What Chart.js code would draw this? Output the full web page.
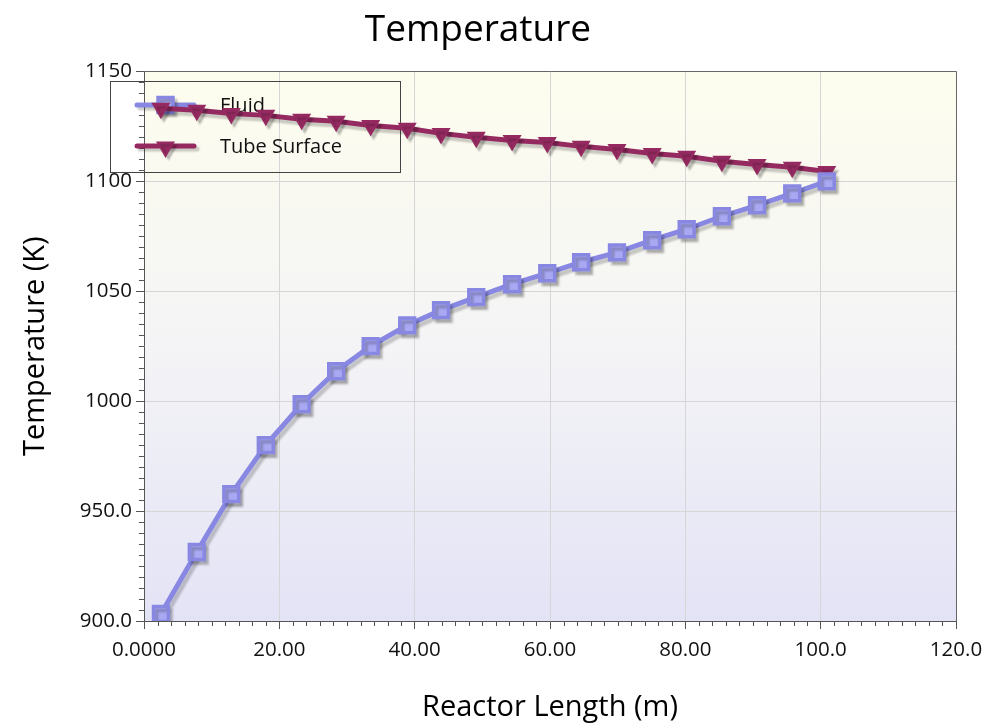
<!DOCTYPE html>
<html>
<head>
<meta charset="utf-8">
<title>Temperature</title>
<script src="https://cdn.jsdelivr.net/npm/chart.js@4.4.1/dist/chart.umd.min.js"></script>
<style>
  html, body { margin: 0; padding: 0; background: #fff; }
  #wrap { width: 987px; height: 726px; position: relative; }
</style>
</head>
<body>
<div id="wrap"><canvas id="chart"></canvas></div>
<script>
// Reactor length (m) for each profile point
const reactorLength = [2.5, 7.8, 12.9, 18.0, 23.3, 28.4, 33.5, 38.9, 43.9, 49.1,
  54.4, 59.6, 64.6, 69.9, 75.1, 80.2, 85.4, 90.6, 95.8, 100.9];

// Temperatures (K)
const fluidTemp = [903.2, 931.4, 957.7, 980.0, 998.6, 1013.6, 1025.0, 1034.5, 1041.4, 1047.3,
  1053.2, 1058.2, 1063.2, 1067.7, 1073.2, 1078.2, 1084.1, 1089.1, 1094.5, 1100.0];
const tubeSurfaceTemp = [1133.2, 1132.3, 1130.9, 1130.0, 1128.2, 1127.3, 1125.4, 1124.1, 1121.8, 1120.0,
  1118.6, 1117.7, 1115.9, 1114.5, 1112.7, 1111.4, 1109.1, 1107.7, 1106.4, 1104.5];

const seriesNames = ["Fluid", "Tube Surface"];

// Axis tick labels (the source formats them inconsistently)
const xTickValues = [0, 20, 40, 60, 80, 100, 120];
const xTickLabels = ["0.0000", "20.00", "40.00", "60.00", "80.00", "100.0", "120.0"];
const yTickValues = [900, 950, 1000, 1050, 1100, 1150];
const yTickLabels = ["900.0", "950.0", "1000", "1050", "1100", "1150"];

const FLUID = "#8888e2";
const FLUID_FILL = "#a8a8f3";
const TUBE = "#952a61";
const AXIS = "#555555";
const GRID = "#d6d6d6";

Chart.defaults.font.family = "'Open Sans', 'Noto Sans', sans-serif";
Chart.defaults.color = "#111";

function majorLabel(values, labels, v) {
  const i = values.indexOf(Math.round(v));
  return i >= 0 && Math.abs(v - Math.round(v)) < 1e-6 ? labels[i] : "";
}

// gradient fill behind the plot
const plotBackground = {
  id: "plotBackground",
  beforeDraw(chart) {
    const { ctx, chartArea: a } = chart;
    const g = ctx.createLinearGradient(0, a.top, 0, a.bottom);
    g.addColorStop(0, "#fdfdee");
    g.addColorStop(0.5, "#f4f4f6");
    g.addColorStop(1, "#e3e3f6");
    ctx.save();
    ctx.fillStyle = g;
    ctx.fillRect(a.left, a.top, a.width, a.height);
    ctx.restore();
  },
};

// short minor ticks + top/right frame
const frameAndMinorTicks = {
  id: "frameAndMinorTicks",
  beforeDatasetsDraw(chart) {
    const { ctx, chartArea: a, scales } = chart;
    ctx.save();
    ctx.strokeStyle = AXIS;
    ctx.lineWidth = 1;
    ctx.beginPath();
    scales.x.ticks.forEach((t, i) => {
      if (majorLabel(xTickValues, xTickLabels, t.value)) return;
      const px = Math.round(scales.x.getPixelForTick(i)) + 0.5;
      ctx.moveTo(px, a.bottom);
      ctx.lineTo(px, a.bottom + 5);
    });
    scales.y.ticks.forEach((t, i) => {
      if (majorLabel(yTickValues, yTickLabels, t.value)) return;
      const py = Math.round(scales.y.getPixelForTick(i)) + 0.5;
      ctx.moveTo(a.left, py);
      ctx.lineTo(a.left - 5, py);
    });
    ctx.stroke();
    ctx.strokeStyle = "#666";
    ctx.beginPath();
    ctx.moveTo(a.left, Math.round(a.top) + 0.5);
    ctx.lineTo(Math.round(a.right) + 0.5, Math.round(a.top) + 0.5);
    ctx.lineTo(Math.round(a.right) + 0.5, a.bottom);
    ctx.stroke();
    ctx.restore();
  },
};

// soft drop shadow under each series
const lineShadow = {
  id: "lineShadow",
  beforeDatasetDraw(chart) {
    const ctx = chart.ctx;
    ctx.save();
    ctx.shadowColor = "rgba(0,0,0,0.2)";
    ctx.shadowOffsetX = 3;
    ctx.shadowOffsetY = 4;
    ctx.shadowBlur = 2;
  },
  afterDatasetDraw(chart) {
    chart.ctx.restore();
  },
};

function drawSquare(ctx, x, y, half, stroke, fill, lw) {
  ctx.beginPath();
  ctx.rect(x - half, y - half, half * 2, half * 2);
  ctx.fillStyle = fill;
  ctx.fill();
  ctx.lineWidth = lw;
  ctx.strokeStyle = stroke;
  ctx.stroke();
}

function drawDownTriangle(ctx, x, y, r, color, lw) {
  ctx.beginPath();
  ctx.moveTo(x, y + r);
  ctx.lineTo(x - r * 0.866, y - r / 2);
  ctx.lineTo(x + r * 0.866, y - r / 2);
  ctx.closePath();
  ctx.fillStyle = color;
  ctx.fill();
  ctx.lineWidth = lw;
  ctx.strokeStyle = color;
  ctx.stroke();
}

// boxed legend overlapping the plot's upper-left corner
const boxedLegend = {
  id: "boxedLegend",
  beforeDatasetsDraw(chart, args, opts) {
    const ctx = chart.ctx;
    const b = opts.box;
    ctx.save();
    ctx.strokeStyle = "#444";
    ctx.lineWidth = 1;
    ctx.strokeRect(b.x + 0.5, b.y + 0.5, b.w, b.h);
    chart.data.datasets.forEach((ds, i) => {
      const y = opts.rows[i];
      ctx.save();
      ctx.shadowColor = "rgba(0,0,0,0.2)";
      ctx.shadowOffsetX = 3;
      ctx.shadowOffsetY = 3;
      ctx.shadowBlur = 2;
      ctx.beginPath();
      ctx.moveTo(opts.lineFrom, y);
      ctx.lineTo(opts.lineTo, y);
      ctx.strokeStyle = ds.borderColor;
      ctx.lineWidth = ds.borderWidth;
      ctx.lineCap = "round";
      ctx.stroke();
      const mx = (opts.lineFrom + opts.lineTo) / 2;
      if (i === 0) drawSquare(ctx, mx, y, 7.5, FLUID, FLUID_FILL, 3.5);
      else drawDownTriangle(ctx, mx, y + 1, 9, TUBE, 2);
      ctx.restore();
      ctx.fillStyle = "#111";
      ctx.font = "20px 'Open Sans', 'Noto Sans', sans-serif";
      ctx.textBaseline = "middle";
      ctx.fillText(ds.label, opts.textX, y + 1);
    });
    ctx.restore();
  },
};

new Chart(document.getElementById("chart"), {
  type: "line",
  data: {
    datasets: [
      {
        label: seriesNames[0],
        data: reactorLength.map((x, i) => ({ x, y: fluidTemp[i] })),
        borderColor: FLUID,
        borderWidth: 5,
        pointStyle: "rect",
        pointRadius: 10.5,
        pointBorderWidth: 3.5,
        pointBackgroundColor: FLUID_FILL,
        pointBorderColor: FLUID,
        tension: 0,
      },
      {
        label: seriesNames[1],
        data: reactorLength.map((x, i) => ({ x, y: tubeSurfaceTemp[i] })),
        borderColor: TUBE,
        borderWidth: 5,
        pointStyle: "triangle",
        pointRotation: 180,
        pointRadius: 9,
        pointBorderWidth: 2,
        pointBackgroundColor: TUBE,
        pointBorderColor: TUBE,
        tension: 0,
      },
    ],
  },
  options: {
    responsive: true,
    maintainAspectRatio: false,
    animation: false,
    layout: { padding: { left: 0, right: 31, top: 0, bottom: 0 } },
    plugins: {
      legend: { display: false },
      tooltip: { enabled: false },
      title: {
        display: true,
        text: "Temperature",
        color: "#000",
        font: { size: 37, weight: "normal" },
        padding: { top: 8, bottom: 19 },
      },
      boxedLegend: {
        box: { x: 110, y: 81, w: 290, h: 91 },
        rows: [105, 146],
        lineFrom: 137,
        lineTo: 194,
        textX: 220,
      },
    },
    scales: {
      x: {
        type: "linear",
        min: 0,
        max: 120,
        afterFit: (s) => { s.height = 105; s.paddingLeft = 0; s.paddingRight = 0; },
        ticks: {
          stepSize: 2,
          autoSkip: false,
          maxRotation: 0,
          padding: 9,
          color: "#111",
          font: { size: 20.5 },
          callback: (v) => majorLabel(xTickValues, xTickLabels, v),
        },
        grid: {
          drawTicks: true,
          tickLength: 8,
          color: (c) => (c.tick && majorLabel(xTickValues, xTickLabels, c.tick.value) ? GRID : "transparent"),
          tickColor: (c) => (c.tick && majorLabel(xTickValues, xTickLabels, c.tick.value) ? AXIS : "transparent"),
        },
        border: { color: AXIS, width: 1 },
        title: {
          display: true,
          text: "Reactor Length (m)",
          color: "#000",
          font: { size: 29 },
          padding: { top: 0, bottom: 1 },
        },
      },
      y: {
        type: "linear",
        min: 900,
        max: 1150,
        afterFit: (s) => { s.width = 144; s.paddingTop = 0; s.paddingBottom = 0; },
        ticks: {
          stepSize: 5,
          autoSkip: false,
          padding: 4,
          color: "#111",
          font: { size: 20.5 },
          callback: (v) => majorLabel(yTickValues, yTickLabels, v),
        },
        grid: {
          drawTicks: true,
          tickLength: 8,
          color: (c) => (c.tick && majorLabel(yTickValues, yTickLabels, c.tick.value) ? GRID : "transparent"),
          tickColor: (c) => (c.tick && majorLabel(yTickValues, yTickLabels, c.tick.value) ? AXIS : "transparent"),
        },
        border: { color: AXIS, width: 1 },
        title: {
          display: true,
          text: "Temperature (K)",
          color: "#000",
          font: { size: 29 },
          padding: { top: 18, bottom: 0 },
        },
      },
    },
  },
  plugins: [plotBackground, frameAndMinorTicks, lineShadow, boxedLegend],
});
</script>
</body>
</html>
